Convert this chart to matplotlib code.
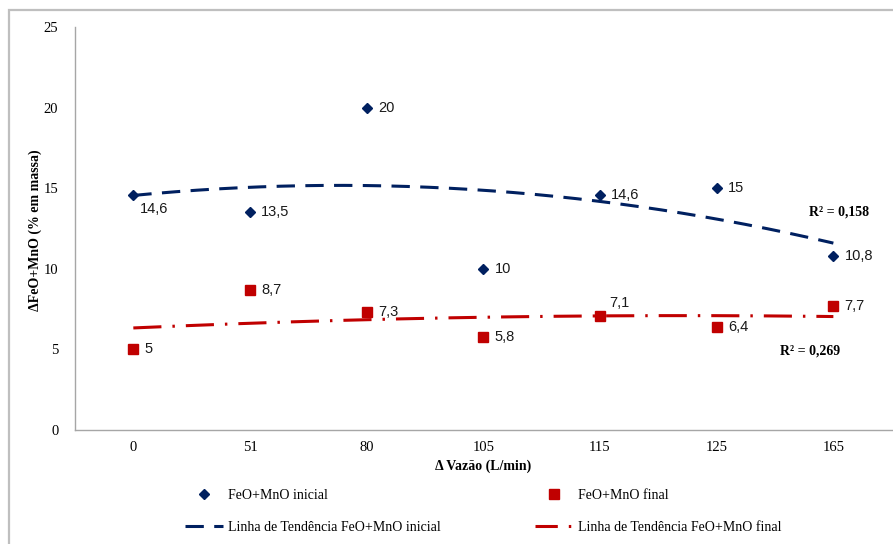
import numpy as np
import matplotlib
matplotlib.use("Agg")
import matplotlib.pyplot as plt
from matplotlib.lines import Line2D
from matplotlib.patches import Rectangle

# ---- data ----
categories = ["0", "51", "80", "105", "115", "125", "165"]
feo_inicial = [14.6, 13.5, 20, 10, 14.6, 15, 10.8]
feo_final = [5, 8.7, 7.3, 5.8, 7.1, 6.4, 7.7]
labels_inicial = ["14,6", "13,5", "20", "10", "14,6", "15", "10,8"]
labels_final = ["5", "8,7", "7,3", "5,8", "7,1", "6,4", "7,7"]
r2_texts = ["R² = 0,158", "R² = 0,269"]
y_ticks = [0, 5, 10, 15, 20, 25]

BLUE = "#002060"
RED = "#C00000"
SERIF = "Liberation Serif"
SANS = "Liberation Sans"

W, H = 893, 544
fig = plt.figure(figsize=(W / 100, H / 100), dpi=100)

# outer chart border
fig.patches.append(Rectangle((9 / W, -0.2), 1.5, 1 - 10 / H + 0.2, transform=fig.transFigure,
                             fill=False, edgecolor="#BFBFBF", linewidth=1.6, zorder=0))

left, right = 75 / W, 891.7 / W
bottom, top = 1 - 430 / H, 1 - 27 / H
ax = fig.add_axes([left, bottom, right - left, top - bottom])

x = np.arange(len(categories))

# trend lines (polynomial order 2, as Excel)
xs = np.linspace(0, len(categories) - 1, 200)
c1 = np.polyfit(x, feo_inicial, 2)
c2 = np.polyfit(x, feo_final, 2)
lw = 2.2
blue_ls = (0, (6, 3.4))
red_ls = (0, (9.2, 3.6, 0.8, 3.6))
ax.plot(xs, np.polyval(c1, xs), color=BLUE, lw=lw, linestyle=blue_ls,
        dash_capstyle="butt", zorder=2)
ax.plot(xs, np.polyval(c2, xs), color=RED, lw=lw, linestyle=red_ls,
        dash_capstyle="butt", zorder=2)

ax.plot(x, feo_inicial, linestyle="none", marker="D", ms=5.3, color=BLUE, zorder=3)
ax.plot(x, feo_final, linestyle="none", marker="s", ms=7.8, color=RED, zorder=3)

# data labels
off_i = [(5, -10), (8, 0), (8, 0), (8, 0), (8, 0), (8, 0), (8, 0)]
off_f = [(8, 0), (8, 0), (8, 0), (8, 0), (7, 9), (8, 0), (8, 0)]
for xi, yi, lab, o in zip(x, feo_inicial, labels_inicial, off_i):
    ax.annotate(lab, (xi, yi), xytext=o, textcoords="offset points", ha="left", va="center",
                fontsize=10.5, family=SANS, color="#1a1a1a", zorder=4)
for xi, yi, lab, o in zip(x, feo_final, labels_final, off_f):
    ax.annotate(lab, (xi, yi), xytext=o, textcoords="offset points", ha="left", va="center",
                fontsize=10.5, family=SANS, color="#1a1a1a", zorder=4)

ax.text(6.31, 13.5, r2_texts[0], ha="right", va="center", fontsize=10, family=SERIF,
        fontweight="bold", color="black")
ax.text(6.06, 4.9, r2_texts[1], ha="right", va="center", fontsize=10, family=SERIF,
        fontweight="bold", color="black")

ax.set_xlim(-0.5, len(categories) - 0.5)
ax.set_ylim(0, 25)
ax.set_xticks(x)
ax.set_xticklabels(categories, family=SERIF, fontsize=10.5)
ax.set_yticks(y_ticks)
ax.set_yticklabels([str(t) for t in y_ticks], family=SERIF, fontsize=10.5)
ax.tick_params(axis="x", length=0, pad=8)
ax.tick_params(axis="y", length=0, pad=12)
for s in ["top", "right"]:
    ax.spines[s].set_visible(False)
for s in ["left", "bottom"]:
    ax.spines[s].set_color("#A6A6A6")
    ax.spines[s].set_linewidth(1.0)

ax.set_xlabel("Δ Vazão (L/min)", family=SERIF, fontsize=10, fontweight="bold", labelpad=4)
fig.text(35 / W, 1 - 230 / H, "ΔFeO+MnO (% em massa)", rotation=90, ha="center", va="center",
         family=SERIF, fontsize=10, fontweight="bold")

# legend (two columns)
h_di = Line2D([], [], linestyle="none", marker="D", ms=5.3, color=BLUE)
h_bl = Line2D([], [], color=BLUE, lw=lw, linestyle=blue_ls, dash_capstyle="butt")
h_sq = Line2D([], [], linestyle="none", marker="s", ms=7.8, color=RED)
h_rd = Line2D([], [], color=RED, lw=lw, linestyle=(0, (7.3, 3.6, 0.8, 3.6)), dash_capstyle="butt")
lp = dict(prop={"family": SERIF, "size": 10}, frameon=False, handlelength=2.7,
          handletextpad=0.4, labelspacing=1.35, borderpad=0, borderaxespad=0, loc="upper left")
fig.legend([h_di, h_bl], ["FeO+MnO inicial", "Linha de Tendência FeO+MnO inicial"],
           bbox_to_anchor=(185 / W, 1 - 489 / H), **lp)
fig.legend([h_sq, h_rd], ["FeO+MnO final", "Linha de Tendência FeO+MnO final"],
           bbox_to_anchor=(535 / W, 1 - 489 / H), **lp)

fig.savefig("out.png", dpi=100)
